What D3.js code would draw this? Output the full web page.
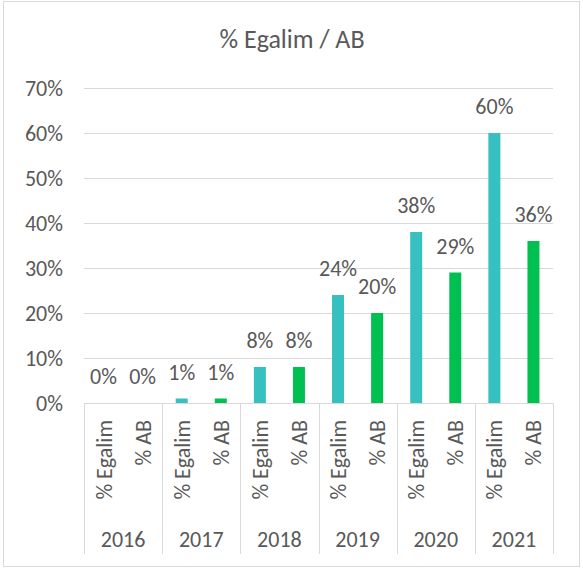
<!DOCTYPE html>
<html>
<head>
<meta charset="utf-8">
<script src="https://cdn.jsdelivr.net/npm/d3@7"></script>
<style>
  body { margin: 0; background: #fff; }
  text { font-family: Carlito, Calibri, Lato, sans-serif; fill: #595959; }
</style>
</head>
<body>
<svg id="chart"></svg>
<script>
const years = ['2016', '2017', '2018', '2019', '2020', '2021']
const seriesNames = ['% Egalim', '% AB']
const egalim = [0, 1, 8, 24, 38, 60]
const ab = [0, 1, 8, 20, 29, 36]
const yTicks = [0, 10, 20, 30, 40, 50, 60, 70]
const colors = ['#37C0C0', '#00C052']

const W = 583, H = 569
const margin = { top: 88, right: 30, bottom: 166, left: 84 }
const fs = 22
const svg = d3.select('#chart').attr('width', W).attr('height', H)

// outer frame
svg.append('rect')
  .attr('x', 3.5).attr('y', 1.5)
  .attr('width', W - 7).attr('height', H - 4)
  .attr('fill', 'none').attr('stroke', '#d9d9d9')

svg.append('text')
  .attr('x', 292).attr('y', 48)
  .attr('text-anchor', 'middle')
  .attr('font-size', 26)
  .text('% Egalim / AB')

const plotBottom = H - margin.bottom
const x = d3.scaleBand()
  .domain(years)
  .range([margin.left, W - margin.right])

const xSub = d3.scaleBand()
  .domain(seriesNames)
  .range([0, x.bandwidth()])

const y = d3.scaleLinear()
  .domain([0, 70])
  .range([plotBottom, margin.top])

// gridlines
svg.append('g')
  .selectAll('line')
  .data(yTicks)
  .join('line')
  .attr('x1', margin.left).attr('x2', W - margin.right)
  .attr('y1', d => y(d) + 0.5).attr('y2', d => y(d) + 0.5)
  .attr('stroke', '#d9d9d9').attr('stroke-width', 1)

// y axis labels
svg.append('g')
  .selectAll('text')
  .data(yTicks)
  .join('text')
  .attr('x', margin.left - 21)
  .attr('y', d => y(d) + 8)
  .attr('text-anchor', 'end')
  .attr('font-size', fs)
  .text(d => d + '%')

// category separators
svg.append('g')
  .selectAll('line')
  .data(years.map(d => x(d)).concat([x(years[years.length - 1]) + x.bandwidth()]))
  .join('line')
  .attr('x1', d => Math.round(d) + 0.5).attr('x2', d => Math.round(d) + 0.5)
  .attr('y1', plotBottom).attr('y2', 554)
  .attr('stroke', '#d9d9d9')

const rows = []
years.forEach((yr, i) => {
  rows.push({ year: yr, s: seriesNames[0], v: egalim[i], c: colors[0] })
  rows.push({ year: yr, s: seriesNames[1], v: ab[i], c: colors[1] })
})

const barW = 12
const bars = svg.append('g')
bars.selectAll('rect')
  .data(rows)
  .join('rect')
  .attr('x', d => x(d.year) + xSub(d.s) + xSub.bandwidth() / 2 - barW / 2)
  .attr('y', d => y(d.v))
  .attr('width', barW)
  .attr('height', d => y(0) - y(d.v))
  .attr('fill', d => d.c)

// value labels
svg.append('g')
  .selectAll('text')
  .data(rows)
  .join('text')
  .attr('x', d => x(d.year) + xSub(d.s) + xSub.bandwidth() / 2)
  .attr('y', d => y(d.v) - 19)
  .attr('text-anchor', 'middle')
  .attr('font-size', fs)
  .text(d => d.v + '%')

// rotated series labels
svg.append('g')
  .selectAll('text')
  .data(rows)
  .join('text')
  .attr('transform', d => {
    const cx = x(d.year) + xSub(d.s) + xSub.bandwidth() / 2 + 8
    return 'translate(' + cx + ',420) rotate(-90)'
  })
  .attr('text-anchor', 'end')
  .attr('font-size', fs)
  .text(d => d.s)

// year labels
svg.append('g')
  .selectAll('text')
  .data(years)
  .join('text')
  .attr('x', d => x(d) + x.bandwidth() / 2)
  .attr('y', 547)
  .attr('text-anchor', 'middle')
  .attr('font-size', fs)
  .text(d => d)
</script>
</body>
</html>
